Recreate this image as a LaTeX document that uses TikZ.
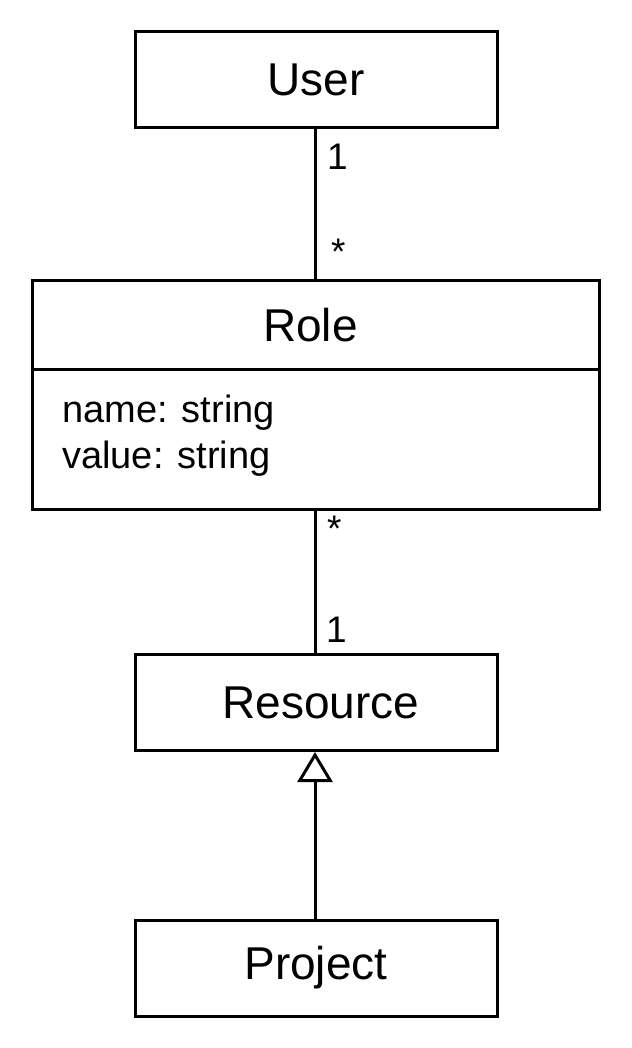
\documentclass[tikz,border=0pt]{standalone}
\usepackage{fontspec}
\setmainfont{Liberation Sans}
\usetikzlibrary{arrows.meta}
\begin{document}
\begin{tikzpicture}[x=1pt,y=-1pt,
  cls/.style={draw,line width=3pt,minimum width=362pt,minimum height=96pt,inner sep=0pt,font=\fontsize{46}{50}\selectfont},
  attr/.style={anchor=base west,inner sep=0pt,font=\fontsize{38}{46}\selectfont},
  mult/.style={font=\fontsize{37}{40}\selectfont,inner sep=0pt,anchor=west},
  link/.style={line width=3pt}]
\fill[white] (0,0) rectangle (631,1048);
\useasboundingbox (0,0) rectangle (631,1048);
\node[cls] (user) at (316,80) {User};
\node[cls,minimum width=567pt,minimum height=88pt] (roletitle) at (315.5,325) {Role\hspace*{10pt}};
\node[draw,line width=3pt,minimum width=567pt,minimum height=140pt,inner sep=0pt] (roleattr) at (315.5,439) {};
\node[attr] (attr1) at (62,422) {name: string};
\node[attr] (attr2) at (62,468) {value: string};
\node[cls] (resource) at (316,702.5) {\hspace*{10pt}Resource};
\node[cls] (project) at (316,968) {Project};
\draw[link] (user.south -| 315,0) -- (roletitle.north -| 315,0);
\draw[link] (roleattr.south -| 315,0) -- (resource.north -| 315,0);
\draw[link,-{Triangle[open,length=30pt,width=35pt]}] (project.north -| 315,0) -- (resource.south -| 315,0);
\node[mult,anchor=base west] (m1) at (327,170) {1};
\node[mult] (m2) at (331,252) {*};
\node[mult] (m3) at (327,529) {*};
\node[mult,anchor=base west] (m4) at (326,642) {1};
\end{tikzpicture}
\end{document}
